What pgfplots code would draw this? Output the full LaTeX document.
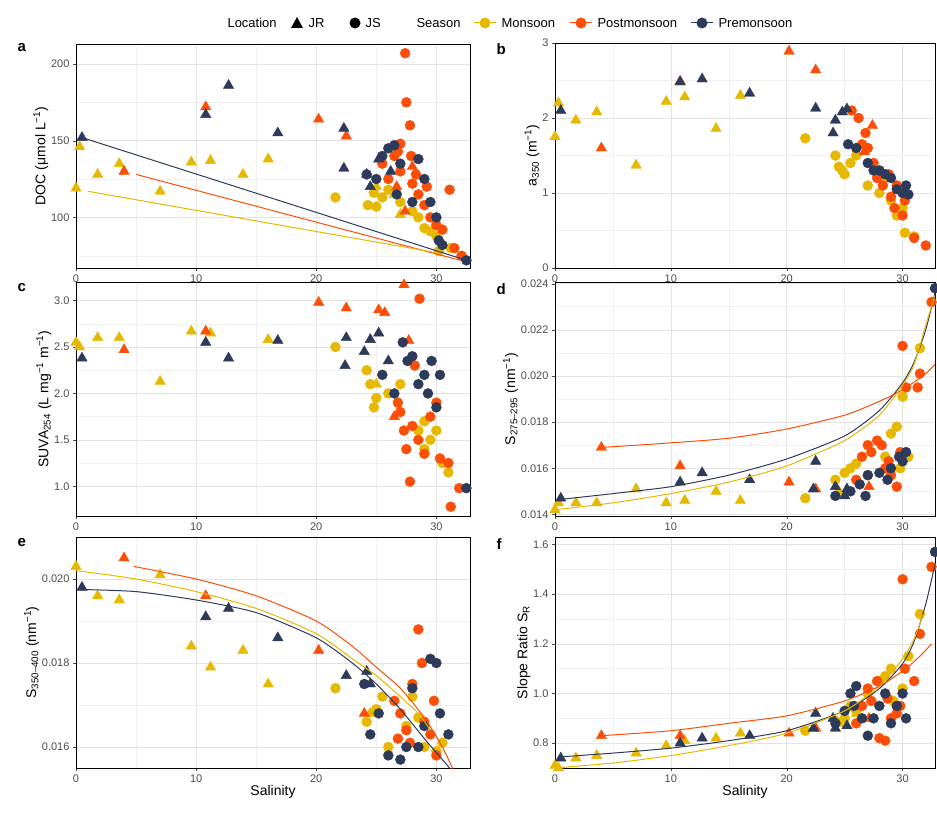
\documentclass[border=0pt]{standalone}
\usepackage{pgfplots}
\pgfplotsset{compat=1.18}
\usepackage{fontspec}
\setmainfont{Liberation Sans}
\definecolor{cM}{HTML}{E7B800}
\definecolor{cP}{HTML}{FC4E07}
\definecolor{cR}{HTML}{2E3A59}
\pgfplotsset{
 base/.style={scale only axis, xmin=0, xmax=32.8, xtick={0,10,20,30}, minor xtick={5,15,25},
  xtick pos=bottom, ytick pos=left,
  grid=both, major grid style={gray!22,line width=0.5pt}, minor grid style={gray!12,line width=0.4pt},
  axis line style={black,line width=0.6pt}, tick style={black!70}, tick align=outside,
  major tick length=3pt, minor tick length=0pt,
  ticklabel style={font=\fontsize{11}{11}\selectfont, text=black!70},
  label style={font=\fontsize{14}{14}\selectfont},
  /pgf/number format/assume math mode=true, clip=true, clip mode=individual, anchor=north west,
  ylabel shift=-4pt},
 tri/.style={only marks, mark=triangle*, mark size=6pt},
 cir/.style={only marks, mark=*, mark size=5pt},
 fit/.style={no marks, line width=1pt, smooth, tension=0.4}
}
\newcommand{\plet}[3]{\node[font=\bfseries\fontsize{15}{15}\selectfont, anchor=north west] at (#2pt,-#3pt) {#1};}
\begin{document}
\begin{tikzpicture}
\path[use as bounding box] (0pt,0pt) rectangle (937pt,-816pt);
% legend
\begin{scope}[font=\fontsize{13}{13}\selectfont]
\node[anchor=west] at (224pt,-23pt) {Location};
\fill (297pt,-17pt) -- (291pt,-28pt) -- (303pt,-28pt) -- cycle; \node[anchor=west] at (305pt,-23pt) {JR};
\fill (355pt,-23pt) circle (5.5pt); \node[anchor=west] at (362pt,-23pt) {JS};
\node[anchor=west] at (413pt,-23pt) {Season};
\draw[cM,line width=1pt] (474pt,-23pt)--(496pt,-23pt); \fill[cM] (485pt,-23pt) circle (5.5pt); \node[anchor=west] at (498pt,-23pt) {Monsoon};
\draw[cP,line width=1pt] (570pt,-23pt)--(592pt,-23pt); \fill[cP] (581pt,-23pt) circle (5.5pt); \node[anchor=west] at (594pt,-23pt) {Postmonsoon};
\draw[cR,line width=1pt] (691pt,-23pt)--(713pt,-23pt); \fill[cR] (702pt,-23pt) circle (5.5pt); \node[anchor=west] at (715pt,-23pt) {Premonsoon};
\end{scope}
\plet{a}{14}{40}\plet{b}{493}{40}\plet{c}{14}{280}\plet{d}{493}{280}\plet{e}{14}{535}\plet{f}{493}{535}
% ---------- a
\begin{axis}[base, at={(76pt,-44pt)}, width=394pt, height=224pt, ymin=67, ymax=213, ytick={100,150,200}, minor ytick={75,125,175},
 ylabel={DOC (μmol L\textsuperscript{−1})}]
\addplot[tri,cM] coordinates {(0,119)(0.3,146)(1.8,128)(3.6,135)(7,117)(9.6,136)(11.2,137)(13.9,128)(16,138)(25,120)(26.5,115)(27,102)};
\addplot[cir,cM] coordinates {(21.6,113)(24.3,108)(25,107)(24.8,116)(25.5,113)(26,118)(27,110)(28,104)(28.5,100)(29,93)(29.5,91)(30,88)(30.2,78)(31.2,80)};
\addplot[tri,cP] coordinates {(4,130)(10.8,172)(20.2,164)(22.5,153)(26.7,120)(27.4,104)(28,133)};
\addplot[cir,cP] coordinates {(27.4,207)(27.5,175)(27.8,160)(27,148)(26.5,140)(25.5,135)(26,125)(27,130)(28,122)(28.5,115)(29,108)(29.5,100)(30,95)(31.1,118)(31.5,80)(32.1,75)(26.8,143)(27.9,140)(28.3,128)(29.2,120)(30.5,92)};
\addplot[tri,cR] coordinates {(0.5,152)(10.8,167)(12.7,186)(16.8,155)(22.3,158)(22.3,132)(24.2,128)(25.2,138)(24.5,120)(26.2,130)};
\addplot[cir,cR] coordinates {(24.2,128)(25.5,140)(26,145)(26.5,147)(27,135)(28.5,138)(29,125)(29.5,110)(30,100)(30.2,85)(30.5,82)(32.5,72)(26.7,115)(28,110)(25,125)};
\addplot[fit,cR] coordinates {(0.5,152)(32.5,72)};
\addplot[fit,cP] coordinates {(5,128)(32,72)};
\addplot[fit,cM] coordinates {(1,117)(30,77)};
\end{axis}
% ---------- b
\begin{axis}[base, at={(555pt,-43pt)}, width=380pt, height=225pt, ymin=0, ymax=3, ytick={0,1,2,3}, minor ytick={0.5,1.5,2.5},
 ylabel={a\textsubscript{350} (m\textsuperscript{−1})}]
\addplot[tri,cM] coordinates {(0,1.75)(0.3,2.2)(1.8,1.97)(3.6,2.08)(7,1.37)(9.6,2.22)(11.2,2.28)(13.9,1.86)(16,2.3)};
\addplot[cir,cM] coordinates {(21.6,1.73)(24.2,1.5)(24.5,1.35)(25,1.25)(24.8,1.3)(25.5,1.4)(26,1.5)(27,1.1)(28,1.0)(29,0.9)(29.5,0.7)(30.2,0.47)(31,0.42)(28.5,1.2)(30,0.8)};
\addplot[tri,cP] coordinates {(4,1.6)(10.8,2.49)(20.2,2.89)(22.5,2.64)(27.4,1.9)(26.7,1.55)};
\addplot[cir,cP] coordinates {(25.6,2.1)(26.2,2.0)(26.8,1.8)(27,1.6)(27.5,1.4)(28,1.3)(28.3,1.1)(28.8,1.25)(29,0.95)(29.5,1.1)(30,0.7)(30.2,0.9)(31,0.4)(32,0.3)(26.5,1.65)(27.8,1.2)(29.3,0.8)};
\addplot[tri,cR] coordinates {(0.5,2.1)(10.8,2.48)(12.7,2.52)(16.8,2.33)(22.5,2.13)(24.2,1.97)(24.8,2.08)(25.2,2.12)(24,1.8)};
\addplot[cir,cR] coordinates {(25.3,1.65)(26,1.6)(27,1.4)(28,1.3)(29,1.2)(29.5,1.05)(30,1.0)(30.3,1.1)(30.5,0.98)(28.5,1.25)(27.5,1.3)};
\end{axis}
% ---------- c
\begin{axis}[base, at={(76pt,-282pt)}, width=394pt, height=234pt, ymin=0.68, ymax=3.2, ytick={1,1.5,2,2.5,3}, minor ytick={1.25,1.75,2.25,2.75},
 yticklabel style={/pgf/number format/fixed, /pgf/number format/fixed zerofill, /pgf/number format/precision=1},
 ylabel={SUVA\textsubscript{254} (L mg\textsuperscript{−1} m\textsuperscript{−1})}]
\addplot[tri,cM] coordinates {(0,2.55)(0.3,2.5)(1.8,2.6)(3.6,2.6)(7,2.13)(9.6,2.67)(11.2,2.65)(16,2.58)(25,2.1)};
\addplot[cir,cM] coordinates {(21.6,2.5)(24.2,2.25)(24.5,2.1)(25,1.95)(24.8,1.85)(26,2.0)(27,2.1)(28.5,1.6)(29,1.7)(29.5,1.5)(30,1.6)(30.5,1.25)(31,1.15)(29,1.4)};
\addplot[tri,cP] coordinates {(4,2.47)(10.8,2.67)(20.2,2.98)(22.5,2.92)(25.2,2.9)(25.7,2.87)(27.3,3.17)(27.7,2.57)(26.5,1.75)};
\addplot[cir,cP] coordinates {(28.6,3.02)(27,1.8)(27.3,1.6)(27.5,1.4)(27.8,1.05)(28,1.65)(28.5,1.5)(29,1.35)(29.5,1.75)(30,1.9)(30.3,1.3)(31,1.25)(31.2,0.78)(31.9,0.98)(26.8,1.9)(28.2,2.3)};
\addplot[tri,cR] coordinates {(0.5,2.38)(10.8,2.55)(12.7,2.38)(16.8,2.57)(22.5,2.6)(22.4,2.3)(24.5,2.58)(25.2,2.65)(24,2.45)(26,2.35)};
\addplot[cir,cR] coordinates {(27.2,2.55)(27.6,2.35)(28,2.4)(28.5,2.1)(29,2.2)(29.3,2.0)(29.6,2.35)(30,1.85)(30.3,2.2)(32.5,0.98)(25.5,2.2)(26.5,2.0)};
\end{axis}
% ---------- d
\begin{axis}[base, at={(555pt,-282pt)}, width=380pt, height=234pt, ymin=0.01393, ymax=0.02407, ytick={0.014,0.016,0.018,0.020,0.022,0.024}, minor ytick={0.015,0.017,0.019,0.021,0.023},
 scaled y ticks=false, yticklabel style={/pgf/number format/fixed, /pgf/number format/fixed zerofill, /pgf/number format/precision=3},
 ylabel={S\textsubscript{275–295} (nm\textsuperscript{−1})}]
\addplot[tri,cM] coordinates {(0,0.0142)(0.3,0.0145)(1.8,0.0145)(3.6,0.0145)(7,0.0151)(9.6,0.0145)(11.2,0.0146)(13.9,0.0150)(16,0.0146)(24.5,0.0150)};
\addplot[cir,cM] coordinates {(21.6,0.0147)(24.2,0.0155)(25,0.0158)(25.5,0.016)(26,0.0162)(27,0.0157)(28.5,0.0165)(29,0.0175)(29.5,0.0178)(30,0.0191)(31.5,0.0212)(30.5,0.0165)(29.8,0.016)};
\addplot[tri,cP] coordinates {(4,0.0169)(10.8,0.0161)(20.2,0.0154)(22.5,0.0151)(27.1,0.0152)};
\addplot[cir,cP] coordinates {(26.5,0.0165)(27,0.017)(27.3,0.0167)(27.8,0.0172)(28.2,0.0170)(28.5,0.0160)(29,0.0157)(29.5,0.0152)(29.8,0.0167)(30,0.0213)(30.3,0.0195)(31.5,0.0201)(32.5,0.0232)(26,0.0155)(28.8,0.0163)(31.3,0.0195)};
\addplot[tri,cR] coordinates {(0.5,0.0147)(10.8,0.0154)(12.7,0.0158)(16.8,0.0155)(22.5,0.0163)(22.3,0.0151)(24.2,0.0152)(25.2,0.0151)(25,0.0148)};
\addplot[cir,cR] coordinates {(24.2,0.0148)(25.5,0.0150)(26.3,0.0153)(27,0.0157)(28,0.0158)(28.7,0.0155)(29,0.016)(29.7,0.0165)(30,0.0163)(30.3,0.0167)(32.8,0.0238)(26.8,0.0148)};
\addplot[fit,cR] coordinates {(0.5,0.01465)(5,0.0149)(10,0.0152)(15,0.0157)(20,0.0164)(25,0.0174)(28,0.0185)(30,0.0197)(31,0.0206)(32,0.0220)(32.8,0.0236)};
\addplot[fit,cM] coordinates {(0,0.0142)(5,0.0145)(10,0.0149)(15,0.0154)(20,0.0161)(25,0.0172)(28,0.0183)(30,0.0196)(31,0.0205)(32,0.0222)(32.8,0.0235)};
\addplot[fit,cP] coordinates {(4,0.0169)(10,0.0171)(15,0.0173)(20,0.0177)(25,0.0183)(28,0.0189)(30,0.0194)(32,0.0201)(32.8,0.0205)};
\end{axis}
% ---------- e
\begin{axis}[base, at={(76pt,-537pt)}, width=394pt, height=231pt, ymin=0.0155, ymax=0.0210, ytick={0.016,0.018,0.020}, minor ytick={0.017,0.019},
 scaled y ticks=false, yticklabel style={/pgf/number format/fixed, /pgf/number format/fixed zerofill, /pgf/number format/precision=3},
 xlabel={Salinity}, xlabel shift=-4pt,
 ylabel={S\textsubscript{350–400} (nm\textsuperscript{−1})}]
\addplot[tri,cM] coordinates {(0,0.0203)(1.8,0.0196)(3.6,0.0195)(7,0.0201)(9.6,0.0184)(11.2,0.0179)(13.9,0.0183)(16,0.0175)(24.5,0.0168)};
\addplot[cir,cM] coordinates {(21.6,0.0174)(24.2,0.0166)(25,0.0169)(25.5,0.0172)(26,0.016)(27.5,0.0165)(28.5,0.0167)(29,0.016)(29.5,0.0151)(30,0.0159)(30.5,0.0161)(28,0.0172)};
\addplot[tri,cP] coordinates {(4,0.0205)(10.8,0.0196)(20.2,0.0183)(24,0.0168)};
\addplot[cir,cP] coordinates {(26.5,0.0171)(27,0.0168)(27.5,0.0164)(28,0.0175)(28.5,0.0188)(28.8,0.0180)(29,0.0166)(29.5,0.0163)(30,0.0158)(30.2,0.0145)(31.5,0.0154)(26.8,0.0162)(27.8,0.0161)(29.8,0.0171)};
\addplot[tri,cR] coordinates {(0.5,0.0198)(10.8,0.0191)(12.7,0.0193)(16.8,0.0186)(22.5,0.0177)(24.2,0.0178)(24.5,0.0175)};
\addplot[cir,cR] coordinates {(24,0.0175)(24.5,0.0163)(25.2,0.0168)(25.5,0.0154)(26,0.0158)(26.5,0.0149)(27,0.0157)(27.5,0.016)(28,0.0174)(28.5,0.016)(29,0.0165)(29.5,0.0181)(30,0.0180)(30.3,0.0168)(31,0.0163)(32.5,0.0152)};
\addplot[fit,cR] coordinates {(0.5,0.01975)(5,0.0197)(10,0.0195)(15,0.0192)(20,0.0186)(23,0.0180)(25,0.0175)(27,0.0169)(29,0.0162)(30.5,0.0157)(32,0.0152)};
\addplot[fit,cM] coordinates {(0,0.0202)(5,0.0200)(10,0.0197)(15,0.0193)(20,0.0187)(23,0.0181)(25,0.0177)(27,0.0172)(28.5,0.0168)(29.5,0.0164)};
\addplot[fit,cP] coordinates {(4.8,0.0203)(10,0.0200)(15,0.0196)(20,0.0190)(23,0.0184)(25,0.0179)(27,0.0174)(29,0.0167)(30.5,0.0160)(31.5,0.0154)};
\end{axis}
% ---------- f
\begin{axis}[base, at={(555pt,-537pt)}, width=380pt, height=231pt, ymin=0.70, ymax=1.63, ytick={0.8,1.0,1.2,1.4,1.6}, minor ytick={0.9,1.1,1.3,1.5},
 yticklabel style={/pgf/number format/fixed, /pgf/number format/fixed zerofill, /pgf/number format/precision=1},
 xlabel={Salinity}, xlabel shift=-4pt,
 ylabel={Slope Ratio S\textsubscript{R}}]
\addplot[tri,cM] coordinates {(0,0.71)(0.3,0.70)(1.8,0.74)(3.6,0.75)(7,0.76)(9.6,0.79)(11.2,0.81)(13.9,0.82)(16,0.84)(24.5,0.88)(26,0.92)};
\addplot[cir,cM] coordinates {(21.6,0.85)(24.2,0.89)(25,0.9)(25.5,0.95)(26,0.93)(27,1.0)(28,1.05)(28.5,1.07)(29,1.1)(29.5,0.95)(30,1.02)(31.5,1.32)(30.5,1.15)(29.2,0.97)};
\addplot[tri,cP] coordinates {(4,0.83)(10.8,0.83)(20.2,0.84)(22.5,0.86)(27.1,0.90)};
\addplot[cir,cP] coordinates {(26,0.88)(26.5,0.95)(27,1.02)(27.3,0.97)(28,0.82)(28.5,0.81)(28.7,0.98)(29,0.9)(29.5,0.92)(30,1.46)(30.2,1.1)(31,1.05)(31.5,1.24)(32.5,1.51)(27.8,1.05)(29.8,0.95)};
\addplot[tri,cR] coordinates {(0.5,0.74)(10.8,0.80)(12.7,0.82)(16.8,0.83)(22.5,0.92)(22.3,0.86)(24.2,0.86)(25.2,0.87)(24,0.9)};
\addplot[cir,cR] coordinates {(24.2,0.88)(25,0.93)(25.5,1.0)(26,1.03)(26.5,0.9)(27,0.83)(27.5,0.9)(28,0.95)(28.5,1.0)(29,0.88)(29.5,0.95)(30,1.0)(30.3,0.9)(32.8,1.57)(25.8,0.95)};
\addplot[fit,cR] coordinates {(0.5,0.745)(5,0.76)(10,0.78)(15,0.81)(20,0.85)(25,0.93)(28,1.02)(30,1.12)(31,1.21)(32,1.36)(32.8,1.52)};
\addplot[fit,cM] coordinates {(0,0.70)(5,0.72)(10,0.75)(15,0.79)(20,0.84)(25,0.93)(28,1.03)(30,1.14)(31,1.22)(31.8,1.32)};
\addplot[fit,cP] coordinates {(4,0.83)(10,0.85)(15,0.88)(20,0.91)(25,0.97)(28,1.03)(30,1.09)(31.5,1.15)(32.5,1.2)};
\end{axis}
\end{tikzpicture}
\end{document}
